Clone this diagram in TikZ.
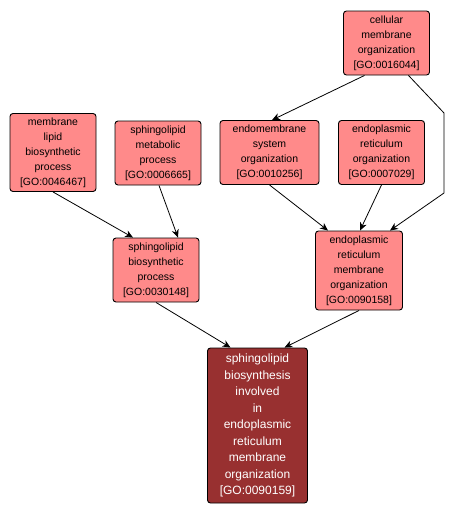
\documentclass[tikz,border=0pt]{standalone}
\usepackage{fontspec}
\setmainfont{Liberation Sans}
\usetikzlibrary{arrows.meta}
\definecolor{termfill}{RGB}{255,138,138}
\definecolor{mainfill}{RGB}{152,48,48}
\begin{document}
\begin{tikzpicture}[
    x=1pt, y=-1pt,
    term/.style={draw, line width=0.9pt, rounded corners=3pt, fill=termfill, align=center, inner sep=1pt,
        minimum width=86pt, minimum height=64pt, font=\fontsize{10.5}{15}\selectfont},
    target/.style={term, fill=mainfill, text=white, minimum width=100pt,
        minimum height=155pt, font=\fontsize{12}{16.5}\selectfont},
    link/.style={-{Stealth[length=8pt,width=7pt,inset=2.5pt]}, line width=0.8pt}
]
\useasboundingbox (0,0) rectangle (454,517);
% GO terms
\node[term] (cmo) at (386.5,43) {cellular\\membrane\\organization\\{[GO:0016044]}};
\node[term, minimum height=78pt] (mlbp) at (53,152.5) {membrane\\lipid\\biosynthetic\\process\\{[GO:0046467]}};
\node[term] (smp) at (158,153) {sphingolipid\\metabolic\\process\\{[GO:0006665]}};
\node[term, minimum width=99pt] (emso) at (269.5,152.5) {endomembrane\\system\\organization\\{[GO:0010256]}};
\node[term] (ero) at (381.5,152.5) {endoplasmic\\reticulum\\organization\\{[GO:0007029]}};
\node[term] (sbp) at (156,270) {sphingolipid\\biosynthetic\\process\\{[GO:0030148]}};
\node[term, minimum width=87pt, minimum height=79pt] (ermo) at (359,270.5) {endoplasmic\\reticulum\\membrane\\organization\\{[GO:0090158]}};
\node[target] (sber) at (257.5,425.5) {sphingolipid\\biosynthesis\\involved\\in\\endoplasmic\\reticulum\\membrane\\organization\\{[GO:0090159]}};

% bend of the long edge
\coordinate (bendA) at (444,113);
\coordinate (bendB) at (444,193);

% edges
\draw[link] ([xshift=-22pt]cmo.south) -- ([xshift=2.5pt]emso.north);
\draw[link] ([xshift=22pt]cmo.south) -- (bendA) -- (bendB) -- ([xshift=31pt]ermo.north);
\draw[link] (emso.south) -- ([xshift=-31pt]ermo.north);
\draw[link] (ero.south) -- ([xshift=1pt]ermo.north);
\draw[link] (mlbp.south) -- ([xshift=-23pt]sbp.north);
\draw[link] ([xshift=1pt]smp.south) -- ([xshift=22pt]sbp.north);
\draw[link] (sbp.south) -- ([xshift=-27pt]sber.north);
\draw[link] (ermo.south) -- ([xshift=27pt]sber.north);
\end{tikzpicture}
\end{document}
